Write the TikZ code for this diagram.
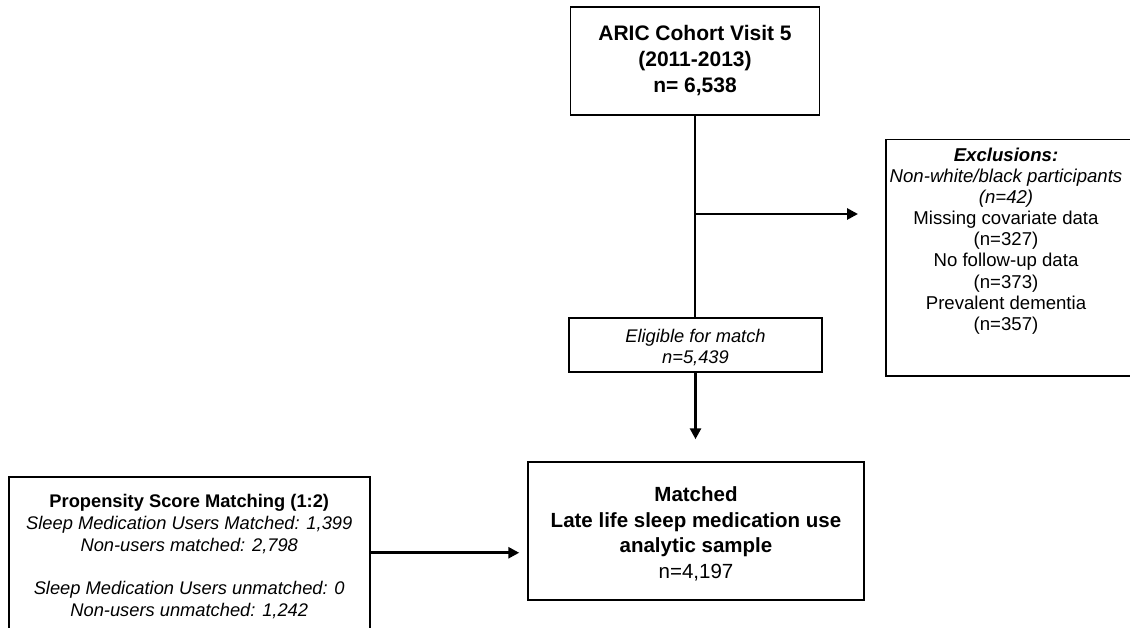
\documentclass[tikz,border=0pt]{standalone}
\usepackage{fontspec}
\setmainfont{Liberation Sans}
\usetikzlibrary{arrows.meta}
\tikzset{
  box/.style={draw=black, line width=1.5pt, rectangle, inner sep=0pt, align=center},
  txt/.style={inner sep=0pt, align=center},
  conn/.style={line width=2.8pt, draw=black},
  arr/.style={conn, -{Triangle[length=11pt,width=11pt]}},
}
\begin{document}
\begin{tikzpicture}[x=1pt,y=-1pt]
\useasboundingbox (0,0) rectangle (1130,628);
\clip (0,0) rectangle (1130,628);
% boxes
\node[box, minimum width=249pt, minimum height=108pt,
      font=\fontsize{21}{26}\selectfont\bfseries] (top) at (695,61)
  {ARIC Cohort Visit 5\\(2011-2013)\\n= 6,538};
\node[box, minimum width=253pt, minimum height=54pt,
      font=\fontsize{18.3}{21}\selectfont\itshape] (elig) at (695.5,345)
  {\rule{0pt}{18pt}Eligible for match\\n=5,439};
\node[box, minimum width=260pt, minimum height=236pt, anchor=north west] (excl) at (885,139) {};
\node[txt, font=\fontsize{18.6}{21.1}\selectfont] (excltxt) at (1006,241)
  {\textbf{\textit{Exclusions:}}\\\textit{Non-white/black participants}\\\textit{(n=42)}\\Missing covariate data\\(n=327)\\No follow-up data\\(n=373)\\Prevalent dementia\\(n=357)};
\node[box, minimum width=336pt, minimum height=138pt,
      font=\fontsize{20.5}{25.5}\selectfont] (matched) at (696,531)
  {\rule{0pt}{21pt}\textbf{Matched}\\\textbf{Late life sleep medication use}\\\textbf{analytic sample}\\n=4,197};
\node[box, minimum width=361pt, minimum height=160pt, anchor=north west,
      font=\fontsize{18.3}{21.8}\selectfont] (prop) at (8,476)
  {\textbf{Propensity Score Matching (1:2)}\\\textit{Sleep Medication Users Matched: 1,399}\\\textit{Non-users matched: 2,798}\\[21.8pt]\textit{Sleep Medication Users unmatched: 0}\\\textit{Non-users unmatched: 1,242}};
% connectors
\coordinate (br) at (top.south |- 0,214);
\draw[conn] (top.south) -- (top.south |- elig.north);
\draw[arr, shorten >=27pt] (br) -- (br -| excl.west);
\draw[arr, shorten >=22pt] (elig.south) -- (elig.south |- matched.north);
\draw[arr, shorten >=8pt] ([yshift=4pt]prop.east) -- ([yshift=4pt]prop.east -| matched.west);
\end{tikzpicture}
\end{document}
